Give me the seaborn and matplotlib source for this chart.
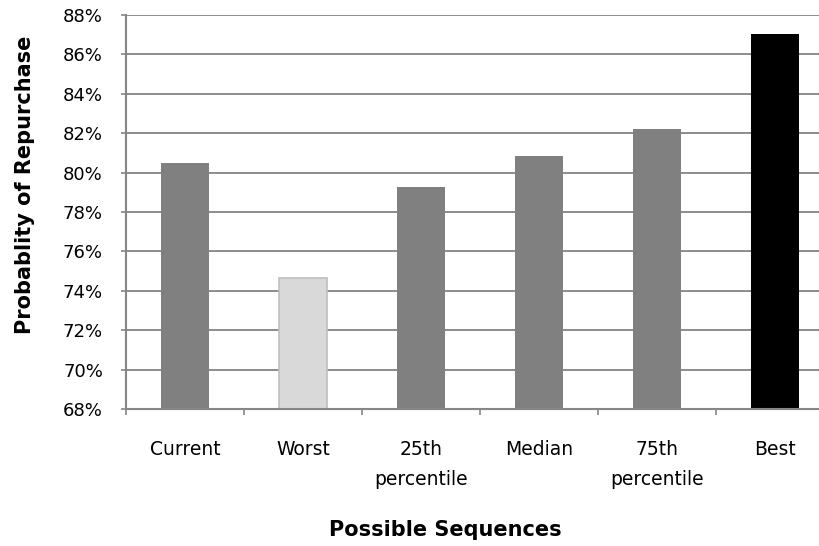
import matplotlib
matplotlib.use("Agg")
import matplotlib.pyplot as plt
from matplotlib.ticker import FuncFormatter, MultipleLocator, FixedLocator
import seaborn as sns
import pandas as pd

# Repurchase probability for each possible sequence
categories = ["Current", "Worst", "25th\npercentile", "Median", "75th\npercentile", "Best"]
probability = [0.805, 0.7465, 0.7929, 0.8086, 0.8223, 0.8704]
bar_colors = ["#808080", "#D9D9D9", "#808080", "#808080", "#808080", "#000000"]

df = pd.DataFrame({"sequence": categories, "probability": probability})

sns.set_theme(style="white")
plt.rcParams["font.family"] = ["DejaVu Sans"]

W, H = 820, 546
fig = plt.figure(figsize=(W / 100, H / 100), dpi=100)
ax_l, ax_r, ax_t, ax_b = 126, 834, 15, 409
ax = fig.add_axes([ax_l / W, 1 - ax_b / H, (ax_r - ax_l) / W, (ax_b - ax_t) / H])

sns.barplot(data=df, x="sequence", y="probability", hue="sequence",
            palette=bar_colors, width=0.41, legend=False, ax=ax,
            saturation=1, zorder=3)

# light bar gets a thin outline
for patch, col in zip(ax.patches, bar_colors):
    if col == "#D9D9D9":
        patch.set_edgecolor("#BFBFBF")
        patch.set_linewidth(1.2)
    else:
        patch.set_edgecolor("none")

ax.set_ylim(0.68, 0.88)
ax.set_xlim(-0.5, len(categories) - 0.5)
ax.yaxis.set_major_locator(MultipleLocator(0.02))
ax.yaxis.set_major_formatter(FuncFormatter(lambda v, _: f"{v * 100:.0f}%"))
ax.grid(axis="y", color="#8C8C8C", linewidth=1.4, zorder=0)
ax.set_axisbelow(True)

for side in ("top", "right"):
    ax.spines[side].set_visible(False)
for side in ("left", "bottom"):
    ax.spines[side].set_color("#868686")
    ax.spines[side].set_linewidth(1.5)
    ax.spines[side].set_zorder(4)

ax.tick_params(axis="y", which="major", length=3.6, width=1.2, color="#868686",
               direction="out", labelsize=13, pad=13, left=True, labelcolor="black")
ax.tick_params(axis="x", which="major", length=0, labelsize=13.5, pad=22, labelcolor="black")
ax.xaxis.set_minor_locator(FixedLocator([i - 0.5 for i in range(len(categories) + 1)]))
ax.tick_params(axis="x", which="minor", length=4.3, width=1.2, color="#868686",
               direction="out", bottom=True)

for lbl in ax.get_xticklabels():
    lbl.set_linespacing(1.75)
    lbl.set_verticalalignment("top")

ax.set_xlabel("Possible Sequences", fontsize=15, fontweight="bold", color="black")
ax.set_ylabel("Probablity of Repurchase", fontsize=15, fontweight="bold", color="black")
ax.xaxis.label.set_verticalalignment("center")
ax.yaxis.label.set_verticalalignment("center")
ax.xaxis.set_label_coords((445 - ax_l) / (ax_r - ax_l), (ax_b - 530) / (ax_b - ax_t))
ax.yaxis.set_label_coords((25 - ax_l) / (ax_r - ax_l), (ax_b - 185) / (ax_b - ax_t))

fig.savefig("out.png", dpi=100)
